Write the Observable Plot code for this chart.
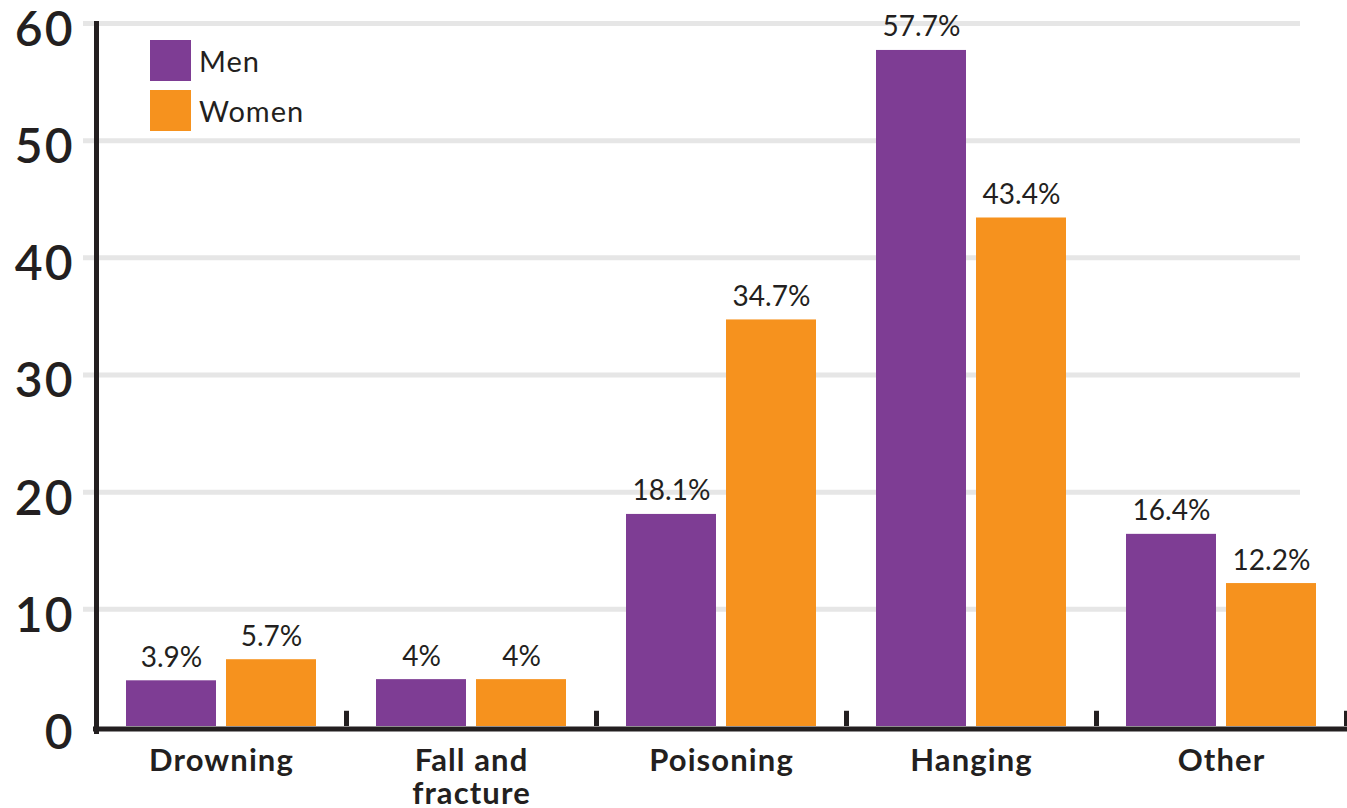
<!DOCTYPE html>
<html>
<head>
<meta charset="utf-8">
<script src="https://cdn.jsdelivr.net/npm/d3@7"></script>
<script src="https://cdn.jsdelivr.net/npm/@observablehq/plot@0.6"></script>
<style>
  html, body { margin: 0; padding: 0; background: #fff; }
  #wrap { position: relative; width: 1347px; height: 808px; }
  #key { position: absolute; left: 150px; top: 40px; }
  #key .key-swatch { padding-bottom: 9px; }
  #key .key-swatch > svg { margin-right: 8px; }
  #key .key-swatch-label { overflow: visible; letter-spacing: 1px; }
  #wrap g[aria-label="x-axis tick label"] text { letter-spacing: 1.1px; }
  #wrap g[aria-label="y-axis tick label"] text { letter-spacing: 2px; }
</style>
</head>
<body>
<div id="wrap"><div id="key"></div></div>
<script>
// Causes of death, share (%) by sex
const categories = ["Drowning", "Fall and fracture", "Poisoning", "Hanging", "Other"];
const tickLabels = ["Drowning", "Fall and\nfracture", "Poisoning", "Hanging", "Other"];
const series = ["Men", "Women"];
const men = [3.9, 4, 18.1, 57.7, 16.4];
const women = [5.7, 4, 34.7, 43.4, 12.2];
const yTicks = [0, 10, 20, 30, 40, 50, 60];

const PURPLE = "#7e3d94";
const ORANGE = "#f6921e";
const INK = "#231f20";
const GRID = "#e6e6e6";
const FONT = "Lato, 'Open Sans', sans-serif";

const W = 1347, H = 808;
const M = {top: 23, right: 1, bottom: 82, left: 96};

// tidy rows for the grouped bars
const rows = categories.flatMap((c, i) => [
  {cause: c, sex: series[0], value: men[i]},
  {cause: c, sex: series[1], value: women[i]}
]);
const menRows = rows.filter(d => d.sex === series[0]);
const womenRows = rows.filter(d => d.sex === series[1]);

// layout of the two bars inside each category band
const band = (W - M.left - M.right) / categories.length;
const outer = 30, gap = 10;
const barW = (band - 2 * outer - gap) / 2;
const labelShift = outer + barW / 2 - band / 2;

const chart = Plot.plot({
  width: W,
  height: H,
  marginTop: M.top,
  marginRight: M.right,
  marginBottom: M.bottom,
  marginLeft: M.left,
  style: {fontFamily: FONT, color: INK, background: "#fff", overflow: "visible"},
  x: {domain: categories, padding: 0, axis: null},
  y: {domain: [0, 60], axis: null},
  color: {domain: series, range: [PURPLE, ORANGE]},
  marks: [
    Plot.ruleY(yTicks.filter(t => t > 0), {stroke: GRID, strokeWidth: 5, insetLeft: -13, insetRight: 46}),
    Plot.barY(menRows, {x: "cause", y: "value", fill: "sex", insetLeft: outer, insetRight: outer + gap + barW}),
    Plot.barY(womenRows, {x: "cause", y: "value", fill: "sex", insetLeft: outer + gap + barW, insetRight: outer}),
    Plot.text(menRows, {x: "cause", y: "value", text: d => `${d.value}%`, dx: labelShift, dy: -23, fontSize: 28, fill: INK}),
    Plot.text(womenRows, {x: "cause", y: "value", text: d => `${d.value}%`, dx: -labelShift, dy: -23, fontSize: 28, fill: INK}),
    Plot.ruleY([0], {stroke: INK, strokeWidth: 5, dy: 2.5, insetLeft: -3, insetRight: -1}),
    Plot.ruleX(categories, {x: d => d, dx: band / 2, y1: 0, y2: 1.3, stroke: INK, strokeWidth: 5}),
    Plot.frame({anchor: "left", stroke: INK, strokeWidth: 5, insetBottom: -5}),
    Plot.axisY(yTicks, {label: null, tickSize: 0, tickPadding: 22, fontSize: 48, fontWeight: 600, dy: 7, fill: INK}),
    Plot.axisX({label: null, tickSize: 0, tickPadding: 21, fontSize: 31, fontWeight: 700, lineHeight: 1.07, fill: INK,
      tickFormat: d => tickLabels[categories.indexOf(d)]})
  ]
});

document.getElementById("wrap").prepend(chart);

const key = chart.legend("color", {
  legend: "swatches",
  columns: 1,
  swatchSize: 41,
  width: 220,
  className: "key",
  style: {fontFamily: FONT, fontSize: "29px", color: INK}
});
document.getElementById("key").append(key);
</script>
</body>
</html>
